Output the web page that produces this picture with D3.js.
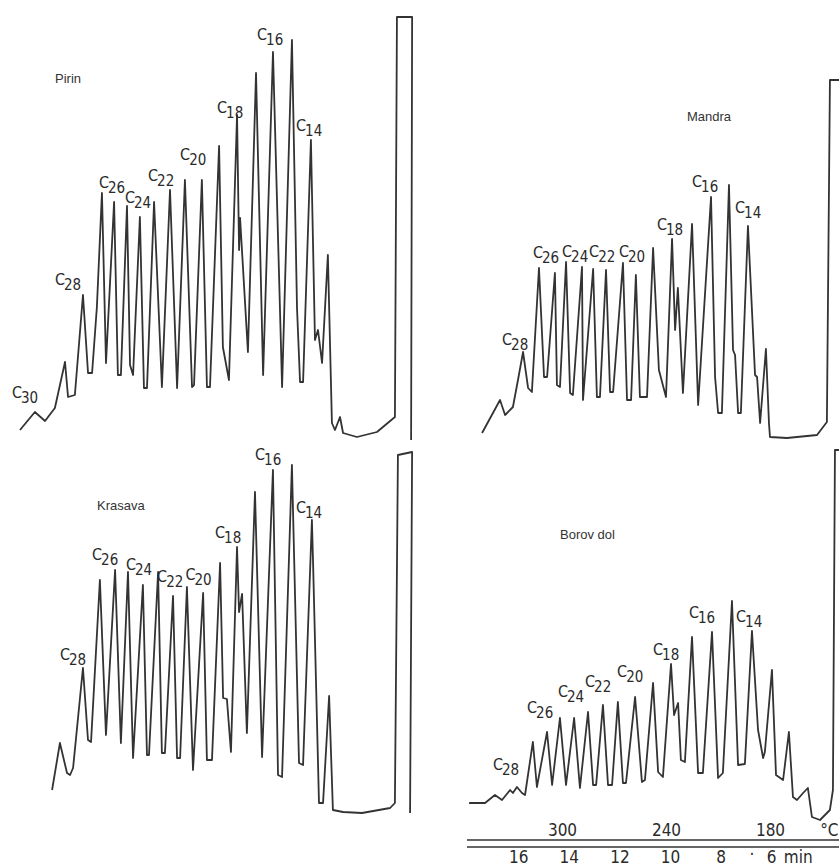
<!DOCTYPE html>
<html>
<head>
<meta charset="utf-8">
<script src="https://d3js.org/d3.v7.min.js"></script>
<style>
body { margin: 0; background: #fff; }
svg { display: block; background: #fff; }
.trace { fill: none; stroke: #333; stroke-width: 1.8; stroke-linejoin: round; }
.peak { font-family: "DejaVu Sans Condensed", "DejaVu Sans", sans-serif; font-size: 16px; fill: #2a2a2a; }
.peak .sub { font-size: 15px; }
.title { font-family: "Liberation Sans", Arial, sans-serif; font-size: 13px; fill: #333; }
.axis text, .unit { font-family: "Liberation Sans Narrow", "DejaVu Sans Condensed", sans-serif; font-size: 17px; fill: #2a2a2a; }
.rule { stroke: #333; stroke-width: 1.6; }
</style>
</head>
<body>
<svg width="839" height="868"></svg>
<script>
// Retention time (min) and detector signal (% of scale)
var pirinTime = [18.42,17.83,17.43,17.04,16.64,16.52,16.25,15.93,15.73,15.57,15.38,15.18,15.02,14.70,14.55,14.43,14.19,14.07,13.95,13.68,13.52,13.40,13.12,12.81,12.49,12.21,11.90,11.62,11.54,11.23,11.03,10.91,10.55,10.40,10.16,9.84,9.76,9.72,9.41,9.09,8.81,8.42,8.06,7.67,7.47,7.35,7.23,6.92,6.76,6.64,6.48,6.25,6.09,5.97,5.77,5.65,5.10,4.31,3.60,3.52,2.92,2.96];
var pirinSignal = [2.5,7,4.75,8,19.5,10.75,11.25,36.25,16.75,16.75,33.25,61.75,19.25,59.5,16.25,16.25,58.5,18.75,16.25,55.75,13,13,59.5,13.25,62.5,13,65,13.25,13.75,65,13.25,13.25,73.5,23.25,15,81.25,47.5,55.5,22,91.75,16.25,97,13.25,100,33,14.5,14.5,75,25,27.5,19.25,46.25,4.25,2.5,5.75,1.75,0.75,2,5.75,105.75,105.75,0];

var mandraTime = [17.31,16.60,16.40,16.09,15.89,15.69,15.49,15.34,15.06,14.86,14.74,14.43,14.35,14.23,13.99,13.83,13.72,13.36,13.32,12.92,12.77,12.65,12.41,12.25,12.13,11.74,11.58,11.42,11.23,11.07,10.79,10.55,10.32,10.04,9.80,9.68,9.57,9.37,9.01,8.77,8.26,8.10,7.98,7.83,7.55,7.39,7.31,7.19,7.08,6.80,6.52,6.44,6.32,6.09,5.97,5.93,5.26,4.07,3.68,3.56,3.20];
var mandraSignal = [1.75,10,6.25,8.25,15,22,13,12,43,15.75,15.75,41.75,13.75,13.25,44.5,11.75,11.25,43.25,10,42.75,10.75,10.75,42.5,12,12,44.25,10,10,41.25,10.75,10.75,48,17.5,10.75,50.25,27.5,38,11.75,54,8.75,60.75,15.75,6.75,6.75,63.75,22.5,21.25,6.75,6.75,53.5,16.25,15.75,4.25,22.75,4.25,0.75,0.5,1.25,4.5,90,90];

var krasavaTime = [17.23,16.92,16.64,16.52,16.40,16.01,15.81,15.69,15.34,15.10,14.74,14.51,14.23,14.03,13.64,13.48,13.40,13.04,12.89,12.77,12.45,12.29,12.17,11.90,11.66,11.26,11.11,10.91,10.59,10.47,10.32,10.16,9.92,9.84,9.72,9.53,9.21,8.93,8.50,8.30,8.14,7.75,7.47,7.31,6.96,6.92,6.68,6.52,6.28,6.13,5.73,4.98,3.87,3.68,3.56,3.00,3.08];
var krasavaSignal = [7.5,19.25,11.75,11.25,13,38,20,19.5,60,21.25,62.5,19.25,62,15.5,58.75,16.25,16.25,62,16.75,16.75,56,15.5,15.5,58.25,12.5,56.75,15,15,64.25,30.5,30.25,17,68.25,52,56.5,21.75,82,15.75,87.5,11.25,10.75,88.75,14.25,13.75,75,65.75,4.25,4.25,31,2.5,2,1.75,3,4.25,91.25,92,1.75];

var borovTime = [17.94,17.31,16.92,16.64,16.32,16.21,16.05,15.85,15.73,15.42,15.26,14.86,14.66,14.35,14.11,13.79,13.56,13.24,13.04,12.92,12.65,12.45,12.29,12.06,11.86,11.74,11.38,11.11,10.99,10.67,10.47,10.28,9.96,9.84,9.68,9.57,9.41,9.13,8.89,8.70,8.34,8.10,7.91,7.55,7.31,7.04,6.76,6.52,6.32,6.25,5.97,5.81,5.53,5.30,5.14,4.98,4.74,4.55,4.39,4.07,3.68,3.56,3.48,3.32];
var borovSignal = [4.25,4.25,6.25,5,7.5,6.75,8.25,6.75,6.25,19.5,8.25,22,8.75,25.5,8.75,25.5,8,27,8.75,8.75,28.75,8.75,8.75,29.5,9.25,9.25,30.75,9.5,10,34.25,12,10.75,39,26.25,29.25,15,14.5,45.75,11.75,11.75,47,10.5,11.75,54.75,13.75,14,47.25,22.5,15.5,17,37.5,11.25,10,22,5.75,5,6.75,8,0.75,0,2.5,7.5,92.5,92.5];

// Peak labels (carbon number) and where they were written (time, signal)
var pirinPeaks = ["30","28","26","24","22","20","18","16","14"];
var pirinLabelTime = [18.74,17.04,15.30,14.27,13.36,12.09,10.63,9.05,7.51];
var pirinLabelSignal = [10.5,38.75,63,59.25,64.75,70,81.75,100,77.25];

var otherPeaks = ["28","26","24","22","20","18","16","14"];
var mandraLabelTime = [16.52,15.30,14.15,13.08,11.90,10.40,9.01,7.31];
var mandraLabelSignal = [23.75,45.5,45.75,45.75,45.75,52.5,63.25,56.75];
var krasavaLabelTime = [16.92,15.65,14.31,13.08,11.96,10.79,9.21,7.59];
var krasavaLabelSignal = [40,65,62.5,59.5,60,70.5,90,76.75];
var borovLabelTime = [17.00,15.65,14.43,13.36,12.09,10.67,9.25,7.39];
var borovLabelSignal = [12.5,26.75,30.75,33.25,35.75,41.25,50.5,49.5];

// Axis ticks under the last chromatogram
var timeTicks = [16, 14, 12, 10, 8, 6];
var tempTicks = [300, 240, 180];

// Panel layout
var panels = [
  {name: "Pirin", time: pirinTime, signal: pirinSignal, peaks: pirinPeaks, lt: pirinLabelTime, ls: pirinLabelSignal, x0: 486, base: 440, tx: 55, ty: 83},
  {name: "Mandra", time: mandraTime, signal: mandraSignal, peaks: otherPeaks, lt: mandraLabelTime, ls: mandraLabelSignal, x0: 920, base: 440, tx: 687, ty: 121},
  {name: "Krasava", time: krasavaTime, signal: krasavaSignal, peaks: otherPeaks, lt: krasavaLabelTime, ls: krasavaLabelSignal, x0: 488, base: 820, tx: 97, ty: 510},
  {name: "Borov dol", time: borovTime, signal: borovSignal, peaks: otherPeaks, lt: borovLabelTime, ls: borovLabelSignal, x0: 923, base: 820, tx: 560, ty: 539}
];

var svg = d3.select("svg");
var pxPerMin = 25.3,
    pxPerUnit = 4;

panels.forEach(function(p) {
    // time runs right to left, as on the recorder chart
    p.x = d3.scaleLinear().domain([0, 10]).range([p.x0, p.x0 - 10 * pxPerMin]);
    p.y = d3.scaleLinear().domain([0, 100]).range([p.base, p.base - 100 * pxPerUnit]);

    var g = svg.append("g");

    var line = d3.line()
        .x(function(d) { return p.x(d[0]); })
        .y(function(d) { return p.y(d[1]); });

    g.append("path")
        .datum(d3.zip(p.time, p.signal))
        .attr("class", "trace")
        .attr("d", line);

    g.append("text")
        .attr("class", "title")
        .attr("x", p.tx)
        .attr("y", p.ty)
        .text(p.name);

    var lab = g.selectAll(".peak")
        .data(d3.zip(p.peaks, p.lt, p.ls))
        .enter()
        .append("text")
        .attr("class", "peak")
        .attr("x", function(d) { return p.x(d[1]); })
        .attr("y", function(d) { return p.y(d[2]); });
    lab.append("tspan").text("C");
    lab.append("tspan").attr("class", "sub").attr("dx", -1).attr("dy", 5).text(function(d) { return d[0]; });
});

// Temperature / time axes below Borov dol
var borov = panels[3];
var tempScale = d3.scaleLinear().domain([300, 180]).range([562, 770]);

var ruleLeft = 467, ruleRight = 839;
svg.append("line").attr("class", "rule")
    .attr("x1", ruleLeft).attr("x2", ruleRight).attr("y1", 840).attr("y2", 840);
svg.append("line").attr("class", "rule")
    .attr("x1", ruleLeft).attr("x2", ruleRight).attr("y1", 847).attr("y2", 847);

svg.append("g")
    .attr("class", "axis")
    .attr("transform", "translate(0,840)")
    .call(d3.axisTop(tempScale).tickValues(tempTicks).tickSize(0).tickPadding(4));

svg.append("g")
    .attr("class", "axis")
    .attr("transform", "translate(0,847)")
    .call(d3.axisBottom(borov.x).tickValues(timeTicks).tickSize(0).tickPadding(4));

svg.selectAll(".axis .domain").remove();
svg.selectAll(".axis text").attr("font-family", null).attr("font-size", null);

svg.append("text")
    .attr("class", "unit")
    .attr("x", tempScale(140.5))
    .attr("y", 836)
    .attr("text-anchor", "end")
    .text("°C");

svg.append("text")
    .attr("class", "unit")
    .attr("x", borov.x(5.5))
    .attr("y", 863)
    .text("min");

svg.append("text")
    .attr("class", "unit")
    .attr("x", borov.x(6.76))
    .attr("y", 860)
    .attr("text-anchor", "middle")
    .text("·");
</script>
</body>
</html>
